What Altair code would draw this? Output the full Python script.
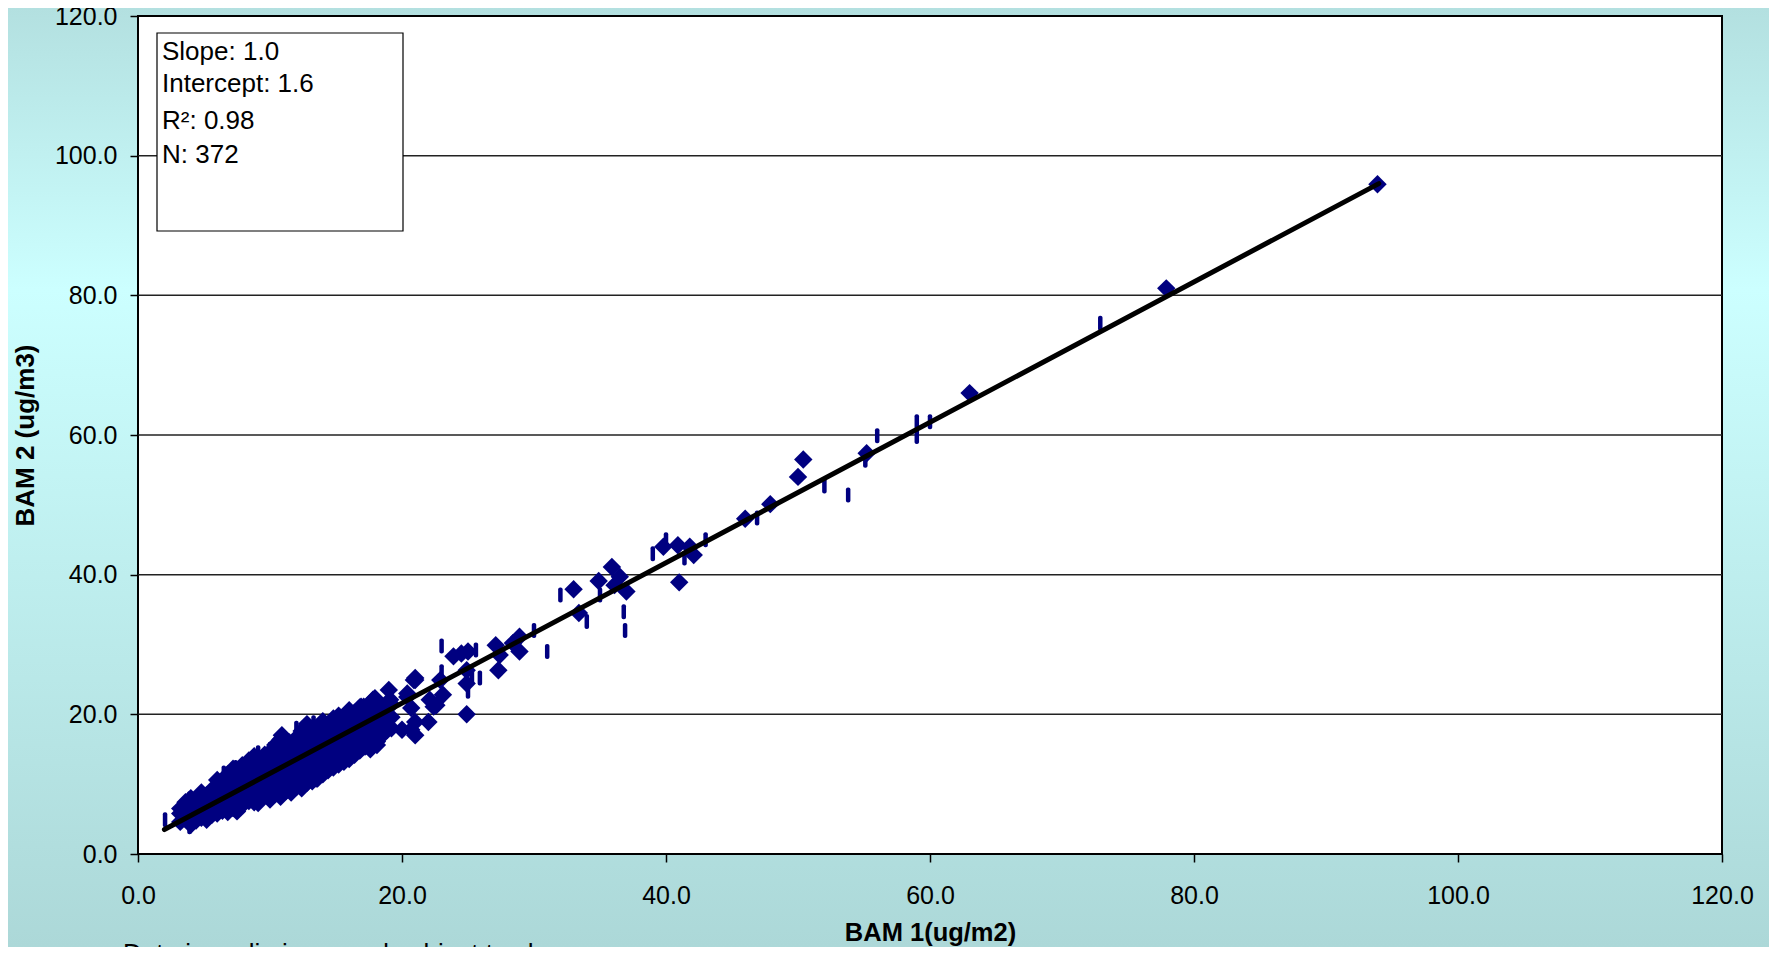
import altair as alt
import pandas as pd

# ---------------- data ----------------
# scattered (outlying) diamond markers
diamond_x = [93.9, 77.9, 63.0, 55.2, 50.4, 50.0, 47.9, 46.0, 39.8, 40.9, 41.8, 42.1, 41.0,
             35.9, 34.9, 36.5, 37.0, 36.1, 33.0, 33.4, 28.9, 28.9, 28.4, 27.1, 27.4, 27.3,
             23.9, 24.5, 25.0, 24.9, 24.9, 22.9, 23.1, 21.0, 22.4, 24.9, 22.0, 20.4, 21.0,
             20.4, 20.7, 22.6, 22.1, 20.0, 19.0, 19.1, 17.8, 16.9, 17.3, 18.1, 17.7, 18.1,
             15.6, 16.2, 16.6, 15.7, 21.0, 20.7, 18.1, 15.8, 17.95, 17.1, 10.9, 21.0, 7.9,
             7.1, 12.4, 13.5, 9.1, 7.5, 5.2, 20.9]
diamond_y = [95.9, 81.0, 66.0, 57.4, 56.5, 54.0, 50.1, 48.0, 44.0, 44.2, 44.0, 42.8, 38.9,
             41.1, 39.1, 39.7, 37.6, 38.5, 37.9, 34.5, 31.1, 29.0, 30.2, 29.9, 28.5, 26.3,
             28.3, 28.7, 29.0, 26.3, 24.4, 24.9, 22.8, 24.9, 21.1, 20.0, 18.9, 23.0, 17.0,
             22.5, 20.9, 21.3, 22.1, 17.8, 23.5, 22.1, 22.1, 21.1, 19.7, 19.9, 18.7, 16.1,
             17.5, 18.3, 17.3, 14.2, 18.9, 17.8, 15.6, 13.7, 22.3, 21.1, 17.0, 25.2, 12.7,
             11.6, 9.9, 10.8, 7.3, 6.1, 4.9, 24.9]

# dense low-concentration cluster of diamonds, column by column (x, then its y values)
cluster_x = [3.2, 3.6, 4.0, 4.4, 4.8, 5.2, 5.6, 6.0, 6.4, 6.8, 7.2, 7.6, 8.0, 8.4, 8.8,
             9.2, 9.6, 10.0, 10.4, 10.8, 11.2, 11.6, 12.0, 12.4, 12.8, 13.2, 13.6, 14.0,
             14.4, 14.8, 15.2, 15.6, 16.0, 16.4, 16.8, 17.2, 17.6, 18.0, 18.6, 19.2]
cluster_y = [
    [4.6, 5.8, 6.5], [5.0, 6.2, 7.4], [4.2, 5.4, 6.6, 8.0], [4.8, 6.0, 7.2],
    [5.2, 6.4, 7.8, 8.8], [6.0, 7.0, 8.4], [5.6, 6.8, 7.8, 9.2], [5.8, 7.2, 8.2, 9.6, 10.6],
    [6.2, 7.4, 8.8, 10.2], [6.0, 7.8, 9.0, 10.0, 11.4], [6.6, 7.6, 8.8, 9.8, 11.0, 12.2],
    [7.0, 8.4, 9.4, 10.6, 11.8], [7.2, 8.2, 9.2, 10.4, 11.2, 12.6],
    [7.6, 8.8, 10.0, 11.0, 12.0, 13.4], [7.4, 8.6, 9.6, 10.8, 11.8, 13.0, 14.0],
    [8.0, 9.2, 10.4, 11.4, 12.4, 13.6], [8.4, 9.6, 10.6, 11.6, 12.8, 14.2],
    [7.8, 9.0, 10.2, 11.2, 12.2, 13.2, 14.6], [8.6, 9.8, 11.0, 12.0, 13.0, 14.0, 15.6],
    [8.2, 9.4, 10.6, 11.8, 12.8, 13.8, 15.0, 16.4], [9.0, 10.2, 11.4, 12.6, 13.6, 14.6],
    [8.8, 10.0, 11.2, 12.4, 13.4, 14.4, 15.4], [9.6, 10.8, 12.0, 13.0, 14.2, 15.2, 16.6],
    [9.4, 10.6, 11.6, 12.8, 13.8, 15.0, 16.2, 17.6], [10.2, 11.4, 12.6, 13.6, 14.8, 16.0, 17.2, 18.6],
    [10.4, 11.2, 12.4, 13.4, 14.6, 15.8, 17.0], [10.8, 12.0, 13.2, 14.4, 15.6, 16.8, 18.2],
    [11.4, 12.6, 13.8, 15.0, 16.4, 17.6, 19.0], [12.0, 13.4, 14.6, 15.8, 17.0, 18.4],
    [12.4, 13.8, 15.2, 16.4, 17.8, 19.4], [12.8, 14.2, 15.6, 17.0, 18.4, 19.8],
    [13.2, 14.8, 16.2, 17.4, 18.8], [13.6, 15.0, 16.6, 18.0, 19.6, 20.6],
    [14.2, 15.8, 17.2, 18.6, 20.2], [14.8, 16.4, 17.8, 19.2, 21.0], [15.4, 17.0, 18.4, 20.0],
    [15.0, 16.4, 18.0, 19.4, 21.6], [16.8, 18.4, 20.4, 22.0], [17.2, 18.8, 20.6], [18.0, 19.6, 21.4],
]

# short vertical dash markers
dash_x = [72.9, 59.0, 59.0, 60.0, 56.0, 55.1, 52.0, 53.8, 46.9, 40.0, 43.0, 41.4, 39.0, 35.0,
          36.8, 36.9, 32.0, 34.0, 30.0, 31.0, 25.6, 23.0, 25.9, 25.0, 23.0, 25.3, 19.0, 18.8,
          17.4, 16.1, 2.05, 3.9, 3.05, 3.9, 10.25, 8.9, 6.5, 9.1, 10.0, 13.3, 11.5, 17.4, 19.0,
          4.6, 5.4, 6.2, 7.0, 7.4, 8.2, 8.6, 9.4, 9.8, 10.6, 11.0, 11.4, 12.2, 12.6, 13.0, 13.8,
          14.2, 14.6, 15.0, 15.4, 15.8, 16.6, 17.0, 17.8, 18.4, 6.6, 9.0, 11.8, 13.4, 5.8, 8.0,
          10.2, 12.0, 14.0, 16.2]
dash_y = [76.0, 61.9, 59.8, 61.9, 59.9, 56.4, 52.7, 51.4, 48.1, 45.0, 45.0, 42.4, 43.0, 37.1,
          34.7, 32.0, 37.1, 33.3, 32.0, 29.0, 29.2, 29.8, 25.2, 23.3, 26.1, 25.3, 23.1, 17.5,
          15.3, 19.5, 4.9, 3.9, 5.0, 7.9, 8.6, 8.5, 11.6, 14.5, 15.0, 18.8, 15.7, 15.4, 23.2,
          7.0, 8.4, 9.4, 10.8, 12.4, 12.8, 8.0, 13.2, 11.0, 14.8, 10.0, 16.2, 14.4, 11.0, 17.4, 13.0,
          18.2, 13.6, 18.6, 15.0, 20.0, 16.0, 20.8, 17.8, 21.4, 8.0, 10.2, 12.8, 15.4, 10.0, 11.6,
          12.6, 18.0, 14.4, 19.0]

# regression line end points
fit_x = [2.0, 94.0]
fit_y = [3.5, 96.0]

tick_values = [0, 20, 40, 60, 80, 100, 120]
grid_values = [20, 40, 60, 80, 100]
stats_lines = ["Slope: 1.0", "Intercept: 1.6", "R\u00b2: 0.98", "N: 372"]
x_title = "BAM 1(ug/m2)"
y_title = "BAM 2 (ug/m3)"
note_text = "Data is preliminary and subject to change"

# ---------------- tables ----------------
cx, cy = [], []
for xv, ylist in zip(cluster_x, cluster_y):
    for yv in ylist:
        cx.append(xv)
        cy.append(yv)
df_diamond = pd.DataFrame({"x": diamond_x + cx, "y": diamond_y + cy})
df_dash = pd.DataFrame({"x": dash_x, "y": dash_y})
df_fit = pd.DataFrame({"x": fit_x, "y": fit_y})
df_grid = pd.DataFrame({"y": grid_values})
one = pd.DataFrame({"k": [0]})

# ---------------- styling ----------------
W, H = 1584, 838
PAD = {"left": 130, "top": 8, "right": 47, "bottom": 93}
FONT = "Liberation Sans"
NAVY = "#000080"

xs = alt.Scale(domain=[0, 120], nice=False, zero=False)
ys = alt.Scale(domain=[0, 120], nice=False, zero=False)

x_axis = alt.Axis(values=tick_values, format=".1f", title=x_title, domain=False, grid=False,
                  tickSize=8, tickColor="black", tickWidth=1.5,
                  labelFont=FONT, labelFontSize=25, labelColor="black", labelPadding=21,
                  labelOverlap=False, labelFlush=False,
                  titleFont=FONT, titleFontSize=25.5, titleFontWeight="bold", titleColor="black",
                  titleX=W / 2, titleY=78, titleAlign="center", titleBaseline="middle", zindex=1)
y_axis = alt.Axis(values=tick_values, format=".1f", title=y_title, domain=False, grid=False,
                  tickSize=8, tickColor="black", tickWidth=1.5,
                  labelFont=FONT, labelFontSize=25, labelColor="black", labelPadding=13,
                  labelOverlap=False, labelFlush=False,
                  titleFont=FONT, titleFontSize=26, titleFontWeight="bold", titleColor="black",
                  titleX=-113, titleY=H / 2, titleAngle=270, titleAlign="center",
                  titleBaseline="middle", zindex=1)

X = alt.X("x:Q", scale=xs, axis=x_axis)
Y = alt.Y("y:Q", scale=ys, axis=y_axis)

bg = alt.Chart(one).mark_rect(
    color=alt.Gradient(
        gradient="linear",
        stops=[alt.GradientStop(color="#b3e0e0", offset=0),
               alt.GradientStop(color="#ccffff", offset=0.3),
               alt.GradientStop(color="#acd8d8", offset=1)],
        x1=0, x2=0, y1=0, y2=1)
).encode(x=alt.value(-PAD["left"]), x2=alt.value(W + PAD["right"]),
         y=alt.value(-PAD["top"]), y2=alt.value(H + PAD["bottom"]))

plot_bg = alt.Chart(one).mark_rect(fill="white", stroke="black", strokeWidth=2).encode(
    x=alt.value(0), x2=alt.value(W), y=alt.value(0), y2=alt.value(H))

grid = alt.Chart(df_grid).mark_rule(color="#222222", strokeWidth=1.5).encode(y=Y)

box = alt.Chart(one).mark_rect(fill="white", stroke="black", strokeWidth=1.2).encode(
    x=alt.value(19), x2=alt.value(265), y=alt.value(17), y2=alt.value(215))

text_layers = []
for t, yy in zip(stats_lines, [44, 76, 113, 147]):
    text_layers.append(
        alt.Chart(one).mark_text(text=t, align="left", baseline="alphabetic", font=FONT,
                                 fontSize=26, color="black").encode(x=alt.value(24), y=alt.value(yy)))

dashes = alt.Chart(df_dash).mark_tick(orient="vertical", size=15, thickness=4.5, color=NAVY,
                                      opacity=1, cornerRadius=2).encode(x=X, y=Y)
diamonds = alt.Chart(df_diamond).mark_point(shape="diamond", filled=True, size=340, color=NAVY,
                                            opacity=1).encode(x=X, y=Y)
fit = alt.Chart(df_fit).mark_line(color="black", strokeWidth=5, strokeCap="round").encode(x=X, y=Y)

note = alt.Chart(one).mark_text(text=note_text, align="left", baseline="top", font=FONT,
                                fontSize=26, color="black").encode(x=alt.value(-15), y=alt.value(925))

chart = alt.layer(bg, plot_bg, grid, box, *text_layers, dashes, diamonds, fit, note).properties(
    width=W, height=H, autosize=alt.AutoSizeParams(type="none"), padding=PAD,
    background="#bfeeee"
).configure_view(strokeWidth=0)

chart.save("out.html", embed_options={"renderer": "svg", "actions": False})
